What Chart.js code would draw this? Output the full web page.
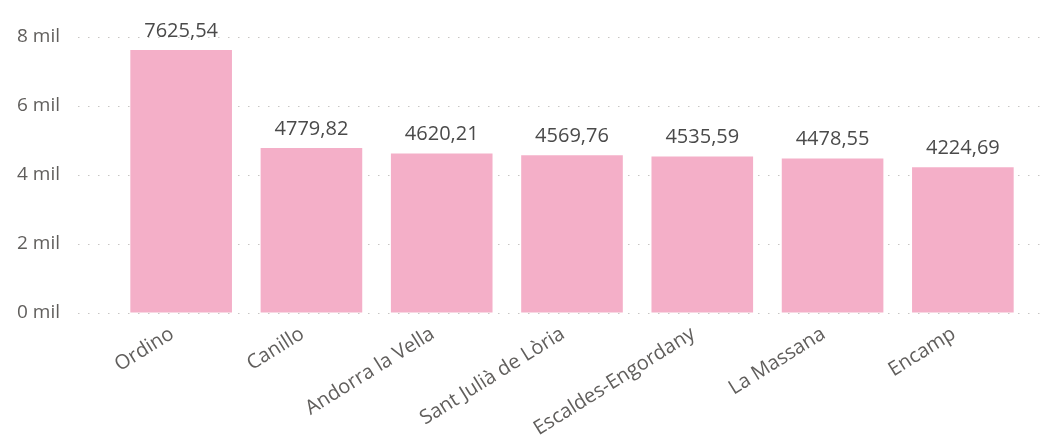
<!DOCTYPE html>
<html>
<head>
<meta charset="utf-8">
<script src="https://cdn.jsdelivr.net/npm/chart.js@4"></script>
<style>
  body { margin: 0; background: #fff; }
</style>
</head>
<body>
<canvas id="chartParroquias" width="1051" height="435"></canvas>
<script>
  const parroquias = ['Ordino', 'Canillo', 'Andorra la Vella', 'Sant Julià de Lòria', 'Escaldes-Engordany', 'La Massana', 'Encamp'];
  const valores = [7625.54, 4779.82, 4620.21, 4569.76, 4535.59, 4478.55, 4224.69];
  const ticksY = [0, 2000, 4000, 6000, 8000];

  const fuente = '"Open Sans", "DejaVu Sans", sans-serif';
  const gris = '#605E5C';

  // lineas punteadas que pasan un poco mas alla del area del grafico
  const lineasGuia = {
    id: 'lineasGuia',
    beforeDatasetsDraw(chart) {
      const c = chart.ctx;
      const area = chart.chartArea;
      const y = chart.scales.y;
      c.save();
      c.strokeStyle = '#C8C6C4';
      c.lineWidth = 1;
      c.setLineDash([1.5, 8.5]);
      ticksY.forEach(t => {
        const py = Math.round(y.getPixelForValue(t)) + 0.5;
        c.beginPath();
        c.moveTo(area.left - 38, py);
        c.lineTo(area.right + 17, py);
        c.stroke();
      });
      c.restore();
    }
  };

  // etiquetas de valor encima de cada barra
  const etiquetas = {
    id: 'etiquetas',
    afterDatasetsDraw(chart) {
      const c = chart.ctx;
      const meta = chart.getDatasetMeta(0);
      c.save();
      c.font = '20px ' + fuente;
      c.fillStyle = '#4A4A4A';
      c.textAlign = 'center';
      c.textBaseline = 'bottom';
      meta.data.forEach((bar, i) => {
        const txt = valores[i].toFixed(2).replace('.', ',');
        c.fillText(txt, bar.x, bar.y - 9);
      });
      c.restore();
    }
  };

  const ctx = document.getElementById('chartParroquias');

  new Chart(ctx, {
    type: 'bar',
    data: {
      labels: parroquias,
      datasets: [{
        label: 'Valor',
        data: valores,
        backgroundColor: '#F4AFC8',
        borderWidth: 0,
        categoryPercentage: 1,
        barPercentage: 0.78
      }]
    },
    options: {
      responsive: false,
      animation: false,
      layout: { padding: { top: 37, right: 23, left: 0, bottom: 0 } },
      plugins: {
        legend: { display: false },
        tooltip: { enabled: false }
      },
      scales: {
        x: {
          grid: { display: false, drawTicks: false },
          border: { display: false },
          ticks: {
            color: gris,
            font: { family: fuente, size: 20 },
            minRotation: 32,
            maxRotation: 32,
            padding: 9,
            labelOffset: -9,
            autoSkip: false
          },
          afterFit(scale) { scale.height = 122; }
        },
        y: {
          min: 0,
          max: 8000,
          grid: { drawOnChartArea: false, drawTicks: true, tickLength: 52, tickColor: 'transparent' },
          border: { display: false },
          ticks: {
            stepSize: 2000,
            color: gris,
            font: { family: fuente, size: 19 },
            padding: 4,
            callback: v => (v / 1000) + ' mil'
          },
          afterFit(scale) { scale.width = 116; }
        }
      }
    },
    plugins: [lineasGuia, etiquetas]
  });
</script>
</body>
</html>
